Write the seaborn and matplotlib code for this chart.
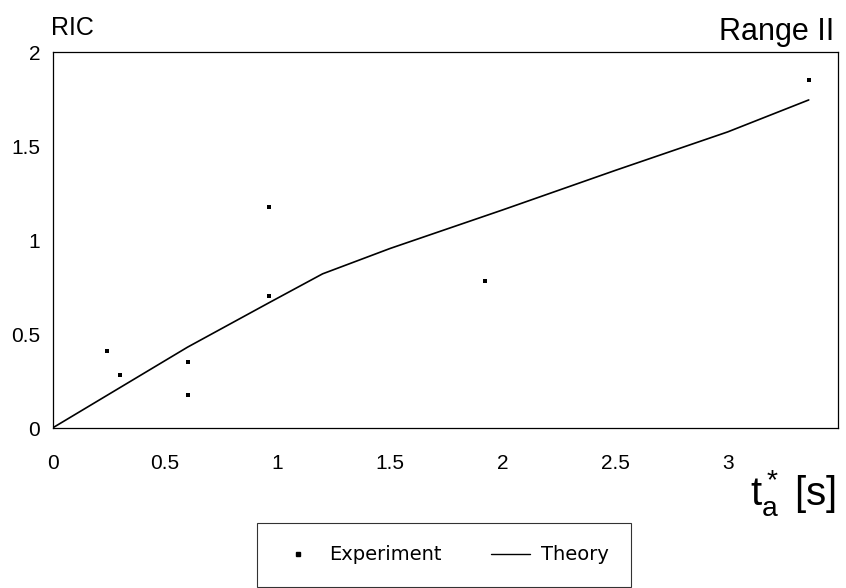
import matplotlib
matplotlib.use("Agg")
import matplotlib.pyplot as plt
import seaborn as sns
import pandas as pd
from matplotlib.lines import Line2D

# Data
exp_t = [0.24, 0.30, 0.60, 0.60, 0.96, 0.96, 1.92, 3.36]
exp_ric = [0.41, 0.28, 0.35, 0.175, 1.175, 0.70, 0.78, 1.85]
theory_t = [0.0, 0.30, 0.60, 0.96, 1.20, 1.50, 2.00, 2.50, 3.00, 3.36]
theory_ric = [0.0, 0.215, 0.43, 0.665, 0.82, 0.955, 1.16, 1.37, 1.575, 1.745]
xticks = [0, 0.5, 1, 1.5, 2, 2.5, 3]
xticklabels = ["0", "0.5", "1", "1.5", "2", "2.5", "3"]
yticks = [0, 0.5, 1, 1.5, 2]
yticklabels = ["0", "0.5", "1", "1.5", "2"]

sns.set_theme(style="white")
plt.rcParams["font.family"] = ["Liberation Sans", "DejaVu Sans"]
plt.rcParams["text.color"] = "black"
plt.rcParams["mathtext.fontset"] = "custom"
plt.rcParams["mathtext.rm"] = "Liberation Sans"
plt.rcParams["mathtext.it"] = "Liberation Sans"

exp_df = pd.DataFrame({"t": exp_t, "ric": exp_ric})
th_df = pd.DataFrame({"t": theory_t, "ric": theory_ric})

fig = plt.figure(figsize=(8.46, 5.88), dpi=100)
ax = fig.add_axes([52.5 / 846, 1 - 428 / 588, (838 - 52.5) / 846, (428 - 52) / 588])

sns.lineplot(data=th_df, x="t", y="ric", ax=ax, color="black", linewidth=1.2, legend=False)
sns.scatterplot(data=exp_df, x="t", y="ric", ax=ax, color="black", marker="s", s=7,
                linewidth=0, legend=False)

ax.set_xlim(0, 3.49)
ax.set_ylim(0, 2)
ax.set_xticks(xticks)
ax.set_xticklabels(xticklabels)
ax.set_yticks(yticks)
ax.set_yticklabels(yticklabels)
ax.set_xlabel("")
ax.set_ylabel("")
ax.tick_params(axis="both", direction="in", length=5, width=0.8, colors="black",
               labelsize=15, labelcolor="black")
ax.tick_params(axis="x", pad=19)
ax.tick_params(axis="y", pad=9)
for sp in ax.spines.values():
    sp.set_visible(True)
    sp.set_color("black")
    sp.set_linewidth(0.9)

fig.text(51 / 846, 1 - 35 / 588, "RIC", fontsize=18, ha="left", va="baseline",
         color="black")
fig.text(834 / 846, 1 - 40 / 588, "Range II", fontsize=22, ha="right", va="baseline",
         color="black")
fig.text(836 / 846, 1 - 505 / 588, r"$\mathregular{t_a^*}$ [s]", fontsize=29,
         ha="right", va="baseline", color="black")

handles = [
    Line2D([], [], color="black", marker="s", markersize=2.3, linestyle="none"),
    Line2D([], [], color="black", linewidth=1.0),
]
leg = fig.legend(handles, ["Experiment", "Theory"], loc="center",
                 bbox_to_anchor=(444 / 846, 1 - 555 / 588), ncol=2, frameon=True,
                 fancybox=False, edgecolor="black",
                 prop={"family": "DejaVu Sans", "size": 14},
                 handlelength=2.0, columnspacing=2.5, borderpad=1.15, handletextpad=0.6,
                 borderaxespad=0.2)
leg.get_frame().set_linewidth(0.8)
for txt in leg.get_texts():
    txt.set_color("black")

fig.savefig("out.png", dpi=100)
